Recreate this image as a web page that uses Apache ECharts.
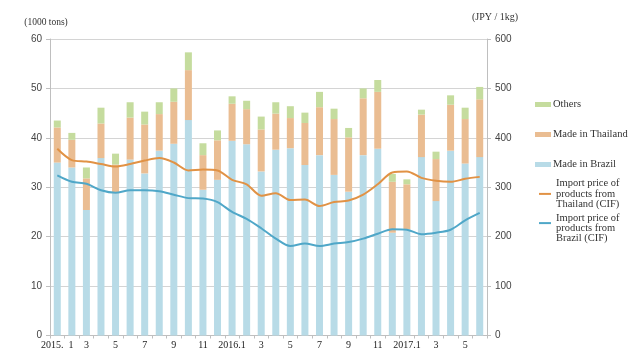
<!DOCTYPE html>
<html>
<head>
<meta charset="utf-8">
<script src="https://cdn.jsdelivr.net/npm/echarts@6/dist/echarts.min.js"></script>
<style>html,body{margin:0;padding:0;background:#fff}#c{width:640px;height:360px}</style>
</head>
<body>
<div id="c"></div>
<script>
const categories = ['2015.  1','2','3','4','5','6','7','8','9','10','11','12',
  '2016.1','2','3','4','5','6','7','8','9','10','11','12',
  '2017.1','2','3','4','5','6'];
const brazil   = [35.0,34.0,25.4,35.9,28.8,35.6,32.8,37.4,38.8,43.6,29.5,31.5,39.4,38.7,33.2,37.6,37.9,34.5,36.5,32.5,29.1,36.5,37.8,20.8,21.5,36.1,27.2,37.4,34.8,36.1];
const thailand = [7.1,5.6,6.4,7.0,5.8,8.5,9.9,7.4,8.5,10.1,7.0,8.0,7.5,7.1,8.5,7.3,6.1,8.5,9.7,11.3,11.0,11.5,11.5,10.3,9.1,8.6,8.5,9.3,9.0,11.7];
const others   = [1.4,1.4,2.2,3.2,2.2,3.1,2.6,2.4,2.7,3.6,2.4,2.0,1.5,1.7,2.6,2.3,2.4,2.1,3.1,2.1,1.9,2.0,2.4,1.6,1.0,1.0,1.5,1.9,2.3,2.5];
const priceThailand = [378,355,352,347,342,347,354,359,350,334,336,334,315,306,283,288,274,275,262,270,273,285,306,330,332,319,313,311,317,321];
const priceBrazil   = [324,311,307,294,289,294,294,292,285,278,277,270,250,236,217,196,181,186,181,186,189,196,206,215,214,205,208,214,233,248];
const leftTicks = [0,10,20,30,40,50,60];
const rightTicks = [0,100,200,300,400,500,600];

const names = {
  others:'Others', th:'Made in Thailand', br:'Made in Brazil',
  pth:'Import price of products from Thailand (CIF)',
  pbr:'Import price of products from Brazil (CIF)'
};
const legendText = {};
legendText[names.pth] = 'Import price of\nproducts from\nThailand (CIF)';
legendText[names.pbr] = '\nImport price of\nproducts from\nBrazil (CIF)';

const C = {br:'#b8dbe7', th:'#eabd92', ot:'#c5dc9e', pth:'#e19245', pbr:'#4fa7c8'};
const serif = '"Liberation Serif","DejaVu Serif",serif';
const sans = '"Liberation Sans",Arial,sans-serif';

function mkLegend(name, top, left, w, h, pad){
  return {
    data:[name], left:left, top:top, orient:'vertical', icon:'rect',
    itemWidth:w, itemHeight:h, itemGap:0, padding:0,
    formatter: n => legendText[n] || n,
    textStyle:{fontFamily:serif, fontSize:10.5, color:'#333', lineHeight:10.4, padding:pad}
  };
}

const chart = echarts.init(document.getElementById('c'));
chart.setOption({
  animation:false,
  grid:{left:50, right:153, top:39, bottom:24.5, containLabel:false},
  legend:[
    mkLegend(names.others, 99, 535, 16, 5, [0,0,0,-3]),
    mkLegend(names.th, 129, 535, 16, 5, [0,0,0,-3]),
    mkLegend(names.br, 159, 535, 16, 5, [0,0,0,-3]),
    mkLegend(names.pth, 178, 539, 12, 2, [0,0,0,0]),
    mkLegend(names.pbr, 202, 539, 12, 2, [0,0,0,0])
  ],
  xAxis:{
    type:'category', data:categories,
    axisLine:{lineStyle:{color:'#bfbfbf'}},
    axisTick:{show:true, length:3, interval:0, lineStyle:{color:'#bfbfbf'}},
    axisLabel:{interval:1, fontFamily:serif, fontSize:10, color:'#222', margin:5}
  },
  yAxis:[
    {type:'value', min:leftTicks[0], max:leftTicks[leftTicks.length-1], interval:10,
     name:'(1000 tons)', nameLocation:'end', nameGap:12,
     nameTextStyle:{fontFamily:serif, fontSize:9.5, color:'#333', align:'center', padding:[0,0,0,-8]},
     axisLine:{show:true, lineStyle:{color:'#bfbfbf'}},
     axisTick:{show:true, length:4, inside:false, lineStyle:{color:'#bfbfbf'}},
     axisLabel:{fontFamily:sans, fontSize:10, color:'#444', margin:8},
     splitLine:{lineStyle:{color:'#d4d4d4'}}},
    {type:'value', min:rightTicks[0], max:rightTicks[rightTicks.length-1], interval:100,
     name:'(JPY / 1kg)', nameLocation:'end', nameGap:17,
     nameTextStyle:{fontFamily:serif, fontSize:10, color:'#333', align:'center', padding:[0,0,0,16]},
     axisLine:{show:true, lineStyle:{color:'#bfbfbf'}},
     axisTick:{show:true, length:4, lineStyle:{color:'#bfbfbf'}},
     axisLabel:{fontFamily:sans, fontSize:10, color:'#444', margin:8},
     splitLine:{show:false}}
  ],
  series:[
    {name:names.br, type:'bar', stack:'v', data:brazil, barWidth:7, itemStyle:{color:C.br}},
    {name:names.th, type:'bar', stack:'v', data:thailand, barWidth:7, itemStyle:{color:C.th}},
    {name:names.others, type:'bar', stack:'v', data:others, barWidth:7, itemStyle:{color:C.ot}},
    {name:names.pth, type:'line', yAxisIndex:1, data:priceThailand, smooth:0.3, showSymbol:false,
     lineStyle:{color:C.pth, width:2}, itemStyle:{color:C.pth}},
    {name:names.pbr, type:'line', yAxisIndex:1, data:priceBrazil, smooth:0.3, showSymbol:false,
     lineStyle:{color:C.pbr, width:2}, itemStyle:{color:C.pbr}}
  ]
});
</script>
</body>
</html>
